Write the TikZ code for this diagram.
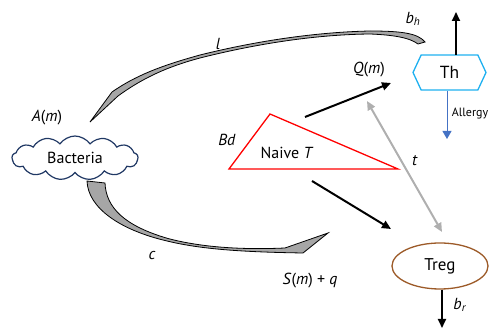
\documentclass[tikz,border=0pt]{standalone}
\usepackage{fontspec}
\setmainfont{PT Sans}
\usetikzlibrary{shapes.symbols,shapes.misc,shapes.geometric,arrows.meta}
\definecolor{cloudblue}{HTML}{203864}
\definecolor{thcyan}{HTML}{1EB0F0}
\definecolor{tregbrown}{HTML}{9C5A28}
\definecolor{allergyblue}{HTML}{4472C4}
\definecolor{fluxgray}{HTML}{A6A6A6}
\definecolor{tgray}{HTML}{AFAFAF}
\tikzset{
  lbl/.style={font=\fontsize{16}{18}\selectfont, inner sep=0pt},
  blk/.style={line width=2pt, -{Triangle[length=9pt,width=8pt]}},
  flux/.style={draw=black, line width=0.8pt, fill=fluxgray, line join=miter},
}
\begin{document}
\begin{tikzpicture}[x=1pt,y=-1pt]
\useasboundingbox (0,0) rectangle (491,328);
% crescents
\path[flux] (90,122) -- (112,92) .. controls (135,76) and (160,66) .. (200,55)
  .. controls (260,40) and (320,32) .. (370,31)
  .. controls (400,31) and (418,33) .. (425,42) -- (418,44)
  .. controls (410,38) and (395,35) .. (370,34)
  .. controls (320,34.5) and (262,42.5) .. (202,57.5)
  .. controls (165,67) and (140,80) .. (118,96) -- cycle;
\path[flux] (87,181) .. controls (88,208) and (120,230) .. (167,241)
  .. controls (200,249) and (240,252) .. (303,253) -- (328,233) -- (285,248)
  .. controls (240,250) and (200,247) .. (168,238.5)
  .. controls (125,226) and (106,208) .. (105,183) -- cycle;
% nodes
\node[cloud, cloud puffs=13, cloud puff arc=110, aspect=3, draw=cloudblue, line width=1.2pt, fill=white,
  minimum width=126pt, minimum height=44pt, inner sep=0pt, font=\fontsize{16}{18}\selectfont] (bac) at (75,158) {Bacteria};
\coordinate (tA) at (229,169);
\coordinate (tB) at (270,114);
\coordinate (tC) at (398,169);
\draw[red, line width=1.3pt, line join=miter] (tA) -- (tB) -- (tC) -- cycle;
\node[font=\fontsize{16}{18}\selectfont] (naive) at (287,153) {Naive \textit{T}};
\node[draw=thcyan, line width=1.3pt, signal, signal to=east and west, signal pointer angle=130,
  minimum width=73pt, minimum height=35pt, inner sep=0pt, font=\fontsize{17.5}{20}\selectfont] (th) at (449.5,72.5) {Th};
\node[draw=tregbrown, line width=1.3pt, ellipse, minimum width=96pt, minimum height=46pt,
  inner sep=0pt, font=\fontsize{17}{19}\selectfont] (treg) at (440,266) {Treg};
% coordinates for arrow ends
\coordinate (qs) at (305,117);
\coordinate (qe) at (391,83);
\coordinate (ss) at (312,181);
\coordinate (se) at (391,229);
\coordinate (ga) at (367,101);
\coordinate (gb) at (442,232);
\coordinate (thup) at (456,12);
\coordinate (tregdown) at (442,328);
\coordinate (allergy) at (447,139);
% arrows
\draw[blk] (qs) -- (qe);
\draw[blk] (ss) -- (se);
\draw[tgray, line width=2pt, {Triangle[length=9pt,width=8pt]}-{Triangle[length=9pt,width=8pt]}] (gb) -- (ga);
\draw[blk] (456,55) -- (thup);
\draw[blk] (treg.south -| tregdown) -- (tregdown);
\draw[allergyblue, line width=0.8pt, -{Triangle[length=8pt,width=9pt]}] (447,91) -- (allergy);
% labels
\node[lbl] at (47,118) {\textit{A}(\textit{m})};
\node[lbl] at (218,44) {\textit{l}};
\node[lbl] at (413,19) {\textit{b}\textsubscript{\textit{h}}};
\node[lbl] at (227,140) {\textit{Bd}};
\node[lbl] at (369,70) {\textit{Q}(\textit{m})};
\node[lbl] at (415,161) {\textit{t}};
\node[lbl] at (152,256) {\textit{c}};
\node[lbl] at (310,281) {\textit{S}(\textit{m}) + \textit{q}};
\node[lbl] at (460,305) {\textit{b}\textsubscript{\textit{r}}};
\node[font=\fontsize{12}{14}\selectfont, inner sep=0pt] at (470,114) {Allergy};
\end{tikzpicture}
\end{document}
